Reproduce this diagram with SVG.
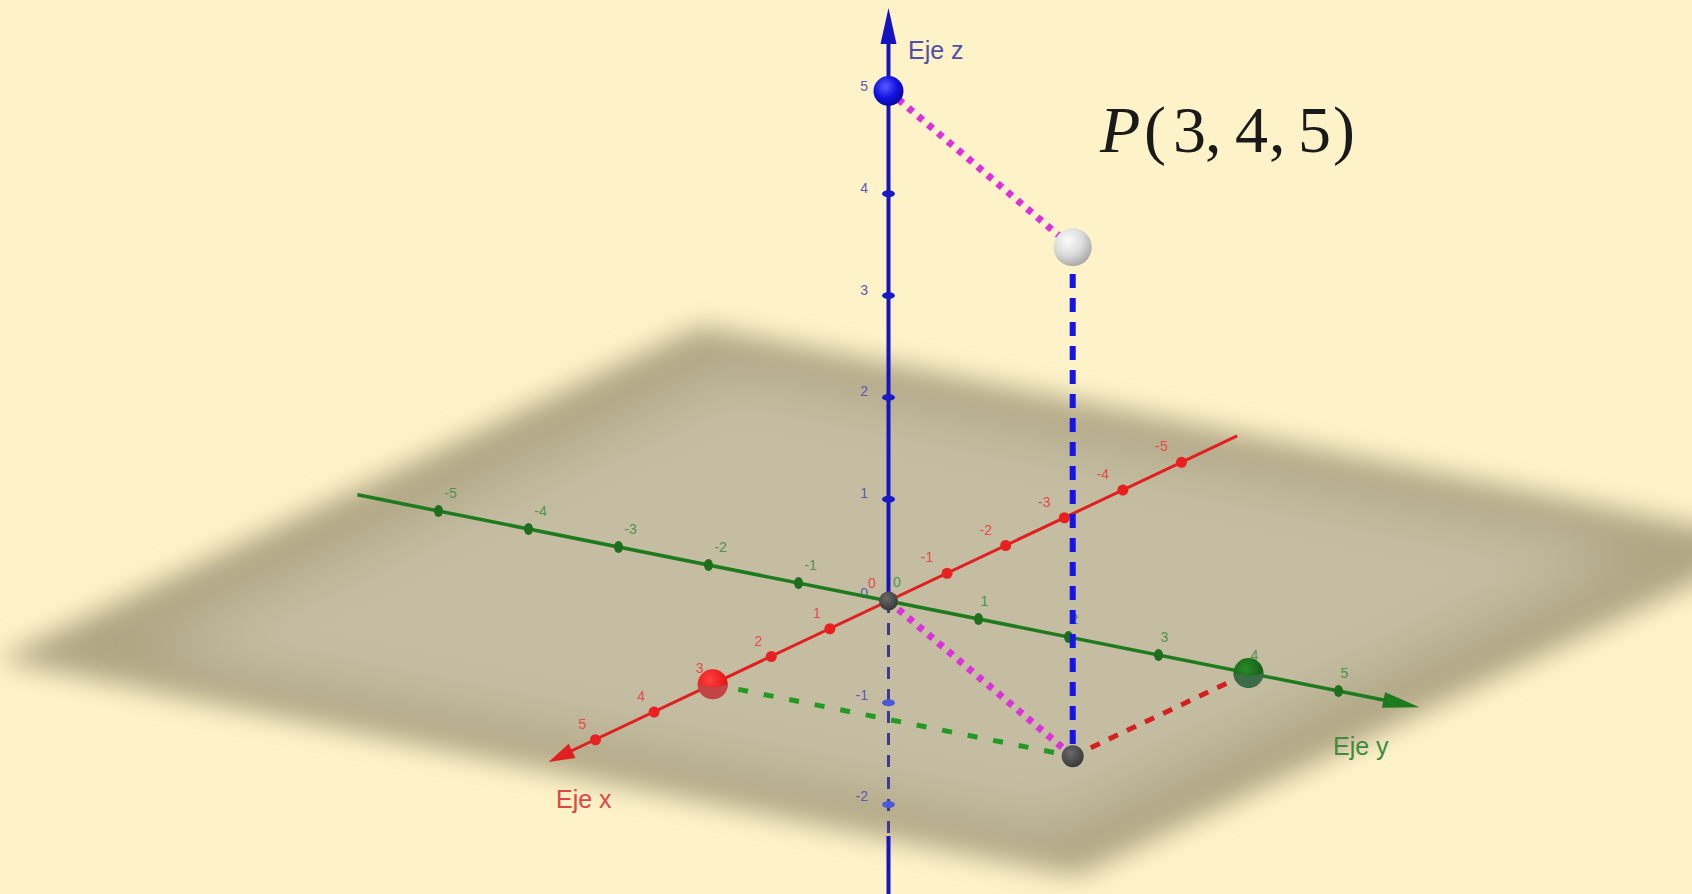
<svg xmlns="http://www.w3.org/2000/svg" width="1692" height="894" viewBox="0 0 1692 894">
  <defs>
    <style>
      .lz { font-family: "Liberation Sans", Arial, sans-serif; font-size: 14px; fill: #5a5ab4; text-anchor: end; }
      .lg { font-family: "Liberation Sans", Arial, sans-serif; font-size: 14px; fill: #4c944c; text-anchor: middle; }
      .lr { font-family: "Liberation Sans", Arial, sans-serif; font-size: 14px; fill: #e84a4a; text-anchor: middle; }
      .axlab { font-family: "Liberation Sans", Arial, sans-serif; font-size: 25px; }
      .tz { fill: #1a1ac8; }
      .tg { fill: #1e6e1e; }
      .tr { fill: #e82020; }
    </style>
    <filter id="soft" x="-10%" y="-20%" width="120%" height="140%">
      <feGaussianBlur stdDeviation="14"/>
    </filter>
    <filter id="softer" x="-20%" y="-30%" width="140%" height="160%">
      <feGaussianBlur stdDeviation="28"/>
    </filter>
    <radialGradient id="gBlue" cx="0.4" cy="0.35" r="0.65">
      <stop offset="0" stop-color="#5a5aff"/>
      <stop offset="0.6" stop-color="#1212e0"/>
      <stop offset="1" stop-color="#0808a0"/>
    </radialGradient>
    <radialGradient id="gGray" cx="0.38" cy="0.32" r="0.7">
      <stop offset="0" stop-color="#fbfbfb"/>
      <stop offset="0.55" stop-color="#dcdcdc"/>
      <stop offset="1" stop-color="#a8a8a8"/>
    </radialGradient>
    <radialGradient id="gRed" cx="0.4" cy="0.35" r="0.65">
      <stop offset="0" stop-color="#ff4040"/>
      <stop offset="1" stop-color="#e01010"/>
    </radialGradient>
    <radialGradient id="gGreen" cx="0.4" cy="0.35" r="0.65">
      <stop offset="0" stop-color="#2a8a2a"/>
      <stop offset="1" stop-color="#135a13"/>
    </radialGradient>
    <radialGradient id="gDark" cx="0.4" cy="0.35" r="0.65">
      <stop offset="0" stop-color="#6a6a6a"/>
      <stop offset="1" stop-color="#3a3a3a"/>
    </radialGradient>
  </defs>

  <rect id="background" x="0" y="0" width="1692" height="894" fill="#fef3c8"/>

  <g id="plane">
    <polygon points="-3.1,659.5 700.1,326.5 1780.1,542.5 1076.9,875.5" fill="#b0a684" filter="url(#soft)"/>
    <polygon points="145.5,649.75 731.5,372.25 1631.5,552.25 1045.5,829.75" fill="#c4bda2" filter="url(#softer)"/>
  </g>

  <g id="axis-z">
    <line x1="888.5" y1="40" x2="888.5" y2="601" stroke="#1414c0" stroke-width="4"/>
    <line x1="888.5" y1="601" x2="888.5" y2="836" stroke="#3a3a8e" stroke-width="3" stroke-dasharray="12 10"/>
    <line x1="888.5" y1="836" x2="888.5" y2="894" stroke="#1414c0" stroke-width="4"/>
    <polygon points="888.5,8 880.5,44 896.5,44" fill="#1414c0"/>
    <ellipse class="tz" cx="888.5" cy="92" rx="6.5" ry="3.5"/>
    <ellipse class="tz" cx="888.5" cy="193.8" rx="6.5" ry="3.5"/>
    <ellipse class="tz" cx="888.5" cy="295.6" rx="6.5" ry="3.5"/>
    <ellipse class="tz" cx="888.5" cy="397.4" rx="6.5" ry="3.5"/>
    <ellipse class="tz" cx="888.5" cy="499.2" rx="6.5" ry="3.5"/>
    <ellipse cx="888.5" cy="702.8" rx="6.5" ry="3.5" fill="#4a5ad8"/>
    <ellipse cx="888.5" cy="804.6" rx="6.5" ry="3.5" fill="#4a5ad8"/>
    <text class="lz" x="868" y="91">5</text>
    <text class="lz" x="868" y="193">4</text>
    <text class="lz" x="868" y="295">3</text>
    <text class="lz" x="868" y="396">2</text>
    <text class="lz" x="868" y="498">1</text>
    <text class="lz" x="868" y="598">0</text>
    <text class="lz" x="868" y="700">-1</text>
    <text class="lz" x="868" y="801">-2</text>
    <text class="axlab" x="908" y="59" fill="#5050a8">Eje z</text>
  </g>

  <g id="axis-y">
    <line x1="357.5" y1="494.8" x2="1386" y2="700.5" stroke="#1e7a1e" stroke-width="3.5"/>
    <polygon points="1419.5,707.2 1381.9,707.8 1385.1,692.2" fill="#1e7a1e"/>
    <ellipse class="tg" cx="438.5" cy="511" rx="4.5" ry="6"/>
    <ellipse class="tg" cx="528.5" cy="529" rx="4.5" ry="6"/>
    <ellipse class="tg" cx="618.5" cy="547" rx="4.5" ry="6"/>
    <ellipse class="tg" cx="708.5" cy="565" rx="4.5" ry="6"/>
    <ellipse class="tg" cx="798.5" cy="583" rx="4.5" ry="6"/>
    <ellipse class="tg" cx="978.5" cy="619" rx="4.5" ry="6"/>
    <ellipse class="tg" cx="1068.5" cy="637" rx="4.5" ry="6"/>
    <ellipse class="tg" cx="1158.5" cy="655" rx="4.5" ry="6"/>
    <ellipse class="tg" cx="1338.5" cy="691" rx="4.5" ry="6"/>
    <text class="lg" x="450.5" y="498">-5</text>
    <text class="lg" x="540.5" y="516">-4</text>
    <text class="lg" x="630.5" y="534">-3</text>
    <text class="lg" x="720.5" y="552">-2</text>
    <text class="lg" x="810.5" y="570">-1</text>
    <text class="lg" x="897" y="587">0</text>
    <text class="lg" x="984.5" y="606">1</text>
    <text class="lg" x="1074.5" y="624">2</text>
    <text class="lg" x="1164.5" y="642">3</text>
    <text class="lg" x="1254.5" y="660">4</text>
    <text class="lg" x="1344.5" y="678">5</text>
    <text class="axlab" x="1333" y="755" fill="#3e8a3e">Eje y</text>
  </g>

  <g id="axis-x">
    <line x1="1237.2" y1="435.9" x2="570" y2="751.5" stroke="#e02020" stroke-width="3"/>
    <polygon points="548.6,762 575.5,758.1 568.7,743.7" fill="#e02020"/>
    <circle class="tr" cx="1181.5" cy="462.25" r="5.5"/>
    <circle class="tr" cx="1122.9" cy="490" r="5.5"/>
    <circle class="tr" cx="1064.3" cy="517.75" r="5.5"/>
    <circle class="tr" cx="1005.7" cy="545.5" r="5.5"/>
    <circle class="tr" cx="947.1" cy="573.25" r="5.5"/>
    <circle class="tr" cx="829.9" cy="628.75" r="5.5"/>
    <circle class="tr" cx="771.3" cy="656.5" r="5.5"/>
    <circle class="tr" cx="654.1" cy="712" r="5.5"/>
    <circle class="tr" cx="595.5" cy="739.75" r="5.5"/>
    <text class="lr" x="1161.5" y="451">-5</text>
    <text class="lr" x="1102.9" y="479">-4</text>
    <text class="lr" x="1044.3" y="507">-3</text>
    <text class="lr" x="985.7" y="534.5">-2</text>
    <text class="lr" x="927.1" y="562">-1</text>
    <text class="lr" x="872" y="588">0</text>
    <text class="lr" x="816.9" y="618">1</text>
    <text class="lr" x="758.3" y="645.5">2</text>
    <text class="lr" x="699.7" y="673">3</text>
    <text class="lr" x="641.1" y="701">4</text>
    <text class="lr" x="582.5" y="729">5</text>
    <text class="axlab" x="556" y="808" fill="#e04545">Eje x</text>
  </g>

  <g id="connectors" fill="none">
    <line x1="1072.7" y1="250" x2="1072.7" y2="752" stroke="#1515e6" stroke-width="6" stroke-dasharray="14 10"/>
    <line x1="888.5" y1="91" x2="1072.7" y2="247.25" stroke="#dc32dc" stroke-width="7" stroke-dasharray="6 7"/>
    <line x1="888.5" y1="601" x2="1072.7" y2="756.25" stroke="#dc32dc" stroke-width="7" stroke-dasharray="6 7"/>
    <line x1="712.7" y1="684.25" x2="1072.7" y2="756.25" stroke="#249a24" stroke-width="5" stroke-dasharray="10 16"/>
    <line x1="1072.7" y1="756.25" x2="1248.5" y2="673" stroke="#d42020" stroke-width="5" stroke-dasharray="10 10"/>
  </g>

  <g id="point-origin">
    <circle cx="888.5" cy="601" r="9.5" fill="url(#gDark)"/>
  </g>
  <g id="point-z5">
    <circle cx="888.5" cy="91" r="15" fill="url(#gBlue)"/>
  </g>
  <g id="point-P">
    <circle cx="1072.7" cy="247.25" r="19" fill="url(#gGray)"/>
  </g>
  <g id="point-x3">
    <circle cx="712.7" cy="684.25" r="15" fill="url(#gRed)"/>
    <path d="M697.7,684.25 Q712.7,690 727.7,684.25 A15,15 0 0 1 697.7,684.25 Z" fill="#c24444"/>
  </g>
  <g id="point-y4">
    <circle cx="1248.5" cy="673" r="15" fill="url(#gGreen)"/>
    <path d="M1233.5,673 Q1248.5,679 1263.5,673 A15,15 0 0 1 1233.5,673 Z" fill="#3b6b48"/>
  </g>
  <g id="point-proj">
    <circle cx="1072.7" cy="756.25" r="11" fill="url(#gDark)"/>
  </g>

  <g id="label-P" font-family="'Liberation Serif', 'Times New Roman', serif" font-size="66" fill="#1a1a1a">
    <text x="1100" y="152" font-style="italic">P</text>
    <text y="152"><tspan x="1144">(</tspan><tspan x="1173">3</tspan><tspan x="1205">,</tspan><tspan x="1235">4</tspan><tspan x="1269">,</tspan><tspan x="1298">5</tspan><tspan x="1333">)</tspan></text>
  </g>
</svg>
